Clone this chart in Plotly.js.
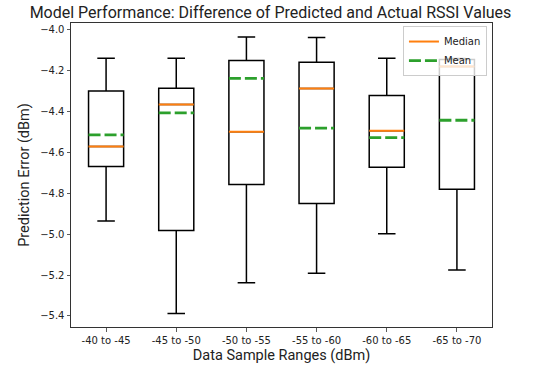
<!DOCTYPE html>
<html>
<head>
<meta charset="utf-8">
<script src="https://cdn.plot.ly/plotly-3.0.1.min.js"></script>
<style>html,body{margin:0;padding:0;background:#fff;}#chart{width:541px;height:365px;}</style>
</head>
<body>
<div id="chart"></div>
<script>
var categories = ["-40 to -45", "-45 to -50", "-50 to -55", "-55 to -60", "-60 to -65", "-65 to -70"];
var whiskerLow  = [-4.935, -5.388, -5.237, -5.191, -4.997, -5.175];
var q1          = [-4.668, -4.982, -4.757, -4.850, -4.672, -4.780];
var medians     = [-4.571, -4.365, -4.498, -4.287, -4.493, -4.179];
var means       = [-4.514, -4.406, -4.237, -4.481, -4.527, -4.442];
var q3          = [-4.299, -4.285, -4.150, -4.158, -4.321, -4.145];
var whiskerHigh = [-4.139, -4.139, -4.034, -4.037, -4.139, -4.140];
var yTickVals   = [-4.0, -4.2, -4.4, -4.6, -4.8, -5.0, -5.2, -5.4];
var yTickText   = ["\u22124.0", "\u22124.2", "\u22124.4", "\u22124.6", "\u22124.8", "\u22125.0", "\u22125.2", "\u22125.4"];

var pos = categories.map(function(_, i){ return i + 1; });
var half = 0.25;

function segs(vals){
  var xs = [], ys = [];
  vals.forEach(function(v, i){
    xs.push(pos[i] - half, pos[i] + half, null);
    ys.push(v, v, null);
  });
  return {x: xs, y: ys};
}
var med = segs(medians), mn = segs(means);

var traces = [
  {
    type: 'box', x: pos, q1: q1, median: medians, q3: q3,
    lowerfence: whiskerLow, upperfence: whiskerHigh,
    width: 0.5, whiskerwidth: 0.5,
    fillcolor: 'rgba(255,255,255,0)',
    line: {color: '#000', width: 1.5},
    showlegend: false, hoverinfo: 'skip'
  },
  {
    type: 'scatter', mode: 'lines', name: 'Median', x: med.x, y: med.y,
    line: {color: '#ff7f0e', width: 2}, hoverinfo: 'skip'
  },
  {
    type: 'scatter', mode: 'lines', name: 'Mean', x: mn.x, y: mn.y,
    line: {color: '#2ca02c', width: 2.8, dash: '12px,4px'}, hoverinfo: 'skip'
  }
];

var layout = {
  width: 541, height: 365,
  margin: {l: 71, r: 49, t: 23, b: 38},
  paper_bgcolor: '#fff', plot_bgcolor: '#fff',
  font: {family: 'DejaVu Sans', size: 10, color: '#000'},
  title: {
    text: 'Model Performance: Difference of Predicted and Actual RSSI Values',
    font: {family: 'Roboto', size: 16, color: '#222'},
    x: 0.5, xref: 'container', y: 0.967, yref: 'container', yanchor: 'middle'
  },
  xaxis: {
    range: [0.5, 6.5], tickvals: pos, ticktext: categories,
    showgrid: false, zeroline: false,
    showline: true, mirror: true, linecolor: '#333', linewidth: 1,
    ticks: 'outside', ticklen: 3.5, tickcolor: '#333', tickwidth: 0.8,
    tickfont: {family: 'DejaVu Sans', size: 10, color: '#222'},
    title: {text: 'Data Sample Ranges (dBm)', font: {family: 'Roboto', size: 14.5, color: '#222'}, standoff: 5}
  },
  yaxis: {
    range: [-5.454, -3.966], tickvals: yTickVals, ticktext: yTickText,
    showgrid: false, zeroline: false,
    showline: true, mirror: true, linecolor: '#333', linewidth: 1,
    ticks: 'outside', ticklen: 3.5, tickcolor: '#333', tickwidth: 0.8,
    tickfont: {family: 'DejaVu Sans', size: 10, color: '#222'},
    title: {text: 'Prediction Error (dBm)', font: {family: 'Roboto', size: 14.5, color: '#222'}, standoff: 7}
  },
  legend: {
    x: 0.988, y: 0.99, xanchor: 'right', yanchor: 'top',
    bgcolor: 'rgba(255,255,255,0.8)', bordercolor: '#ccc', borderwidth: 1,
    font: {family: 'DejaVu Sans', size: 10, color: '#222'},
    itemwidth: 30, tracegroupgap: 0
  },
  showlegend: true
};

Plotly.newPlot('chart', traces, layout, {staticPlot: true, displayModeBar: false});
</script>
</body>
</html>
